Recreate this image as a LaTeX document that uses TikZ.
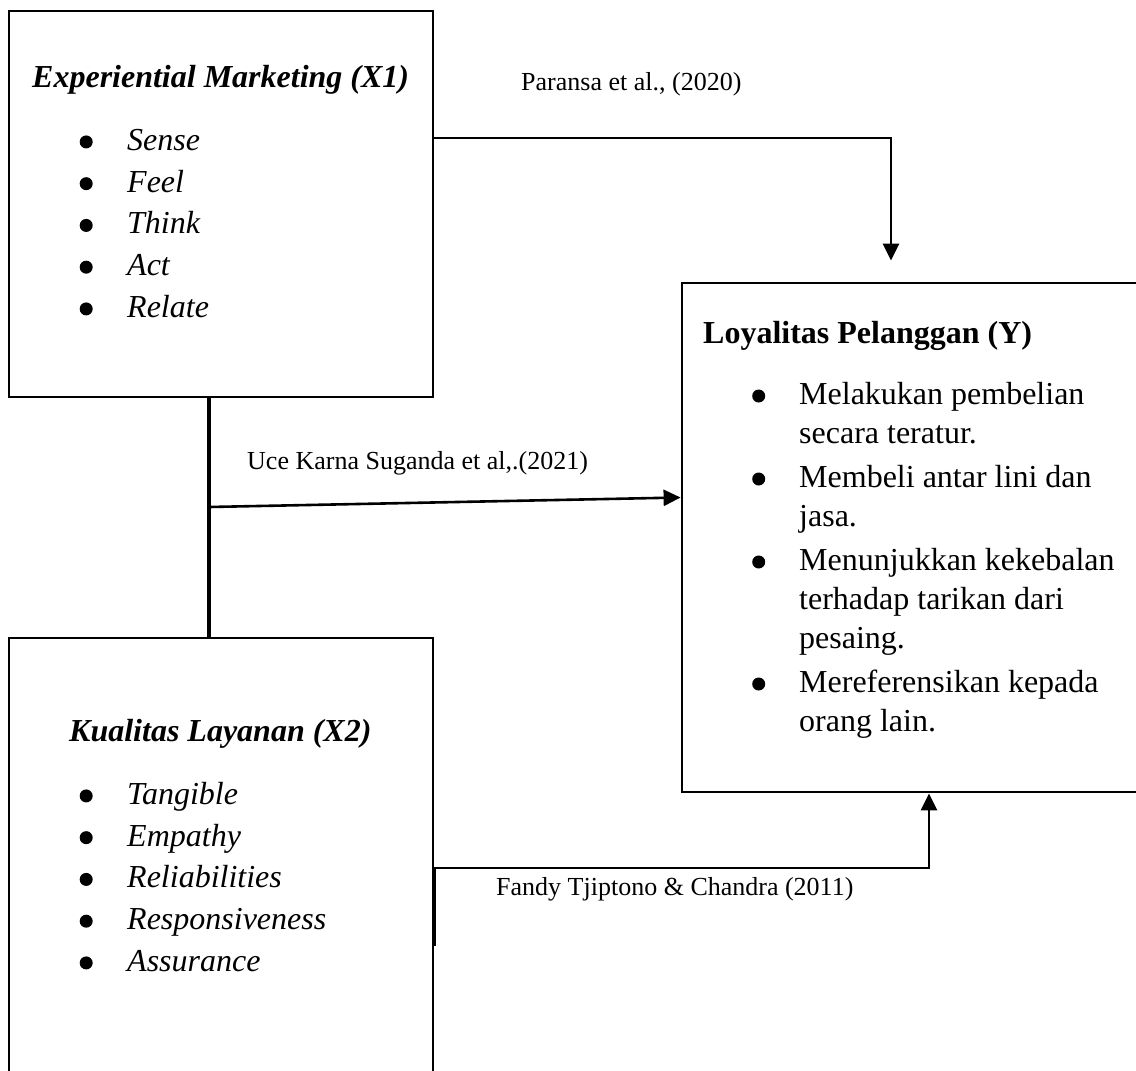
\documentclass[tikz,border=0pt]{standalone}
\usepackage{fontspec}
\setmainfont{Liberation Serif}
\usetikzlibrary{arrows.meta}
\newcommand{\blt}{\tikz[baseline=-8.5pt]\fill (0,0) circle (6.5pt);}

\begin{document}
\begin{tikzpicture}[x=1pt,y=-1pt,
    box/.style={draw,rectangle,line width=2.8pt,inner sep=0pt},
    head/.style={anchor=west,inner sep=0pt},
    list/.style={anchor=north west,inner sep=0pt},
    cite/.style={anchor=west,inner sep=0pt,font=\fontsize{26}{30}\selectfont},
    link/.style={line width=2.6pt,-{Triangle[width=16pt,length=17pt]}}]
    \useasboundingbox (0,0) rectangle (1136,1071);
    \clip (0,0) rectangle (1136,1071);
    % the three boxes
    \node[box,minimum width=424pt,minimum height=386pt] (x1) at (221,204) {};
    \node[box,minimum width=424pt,minimum height=442pt] (x2) at (221,859) {};
    \node[box,minimum width=458pt,minimum height=509pt] (ly) at (911,537.5) {};
    % headings
    \node[head,font=\fontsize{32}{38}\selectfont\bfseries\itshape] (x1head) at (32,80) {Experiential Marketing (X1)};
    \node[head,font=\fontsize{32}{38}\selectfont\bfseries\itshape] (x2head) at (69,734) {Kualitas Layanan (X2)};
    \node[head,font=\fontsize{32}{38}\selectfont\bfseries] (lyhead) at (703,336) {Loyalitas Pelanggan (Y)};
    % indicators
    \node[list,font=\fontsize{32}{41.75}\selectfont] (x1list) at (79.5,121) {%
      \begin{tabular}{@{}p{47.5pt}@{}l@{}}
      \blt & \textit{Sense}\\
      \blt & \textit{Feel}\\
      \blt & \textit{Think}\\
      \blt & \textit{Act}\\
      \blt & \textit{Relate}
      \end{tabular}};
    \node[list,font=\fontsize{32}{41.75}\selectfont] (x2list) at (79.5,775) {%
      \begin{tabular}{@{}p{47.5pt}@{}l@{}}
      \blt & \textit{Tangible}\\
      \blt & \textit{Empathy}\\
      \blt & \textit{Reliabilities}\\
      \blt & \textit{Responsiveness}\\
      \blt & \textit{Assurance}
      \end{tabular}};
    \node[list,font=\fontsize{32}{39}\selectfont] (lylist) at (752,377) {%
      \begin{tabular}{@{}p{47pt}@{}l@{}}
      \blt & Melakukan pembelian\\
           & secara teratur.\\[5pt]
      \blt & Membeli antar lini dan\\
           & jasa.\\[5pt]
      \blt & Menunjukkan kekebalan\\
           & terhadap tarikan dari\\
           & pesaing.\\[5pt]
      \blt & Mereferensikan kepada\\
           & orang lain.
      \end{tabular}};
    % sources
    \node[cite] (c1) at (521,84) {Paransa et al., (2020)};
    \node[cite] (c2) at (247,463) {Uce Karna Suganda et al,.(2021)};
    \node[cite] (c3) at (496,889) {Fandy Tjiptono \& Chandra (2011)};
    % connectors
    \coordinate (join) at (209,507);
    \draw[line width=4pt] ([xshift=-12pt]x1.south) -- ([xshift=-12pt]x2.north);
    \draw[link] ([yshift=66pt]x1.east) -| ([xshift=-20pt,yshift=21pt]ly.north);
    \draw[link] (join) -- ([yshift=40pt]ly.west);
    \draw[link] ([yshift=-87pt]x2.east) -- ([yshift=-9pt]x2.east) -| ([xshift=18pt]ly.south);
\end{tikzpicture}
\end{document}
